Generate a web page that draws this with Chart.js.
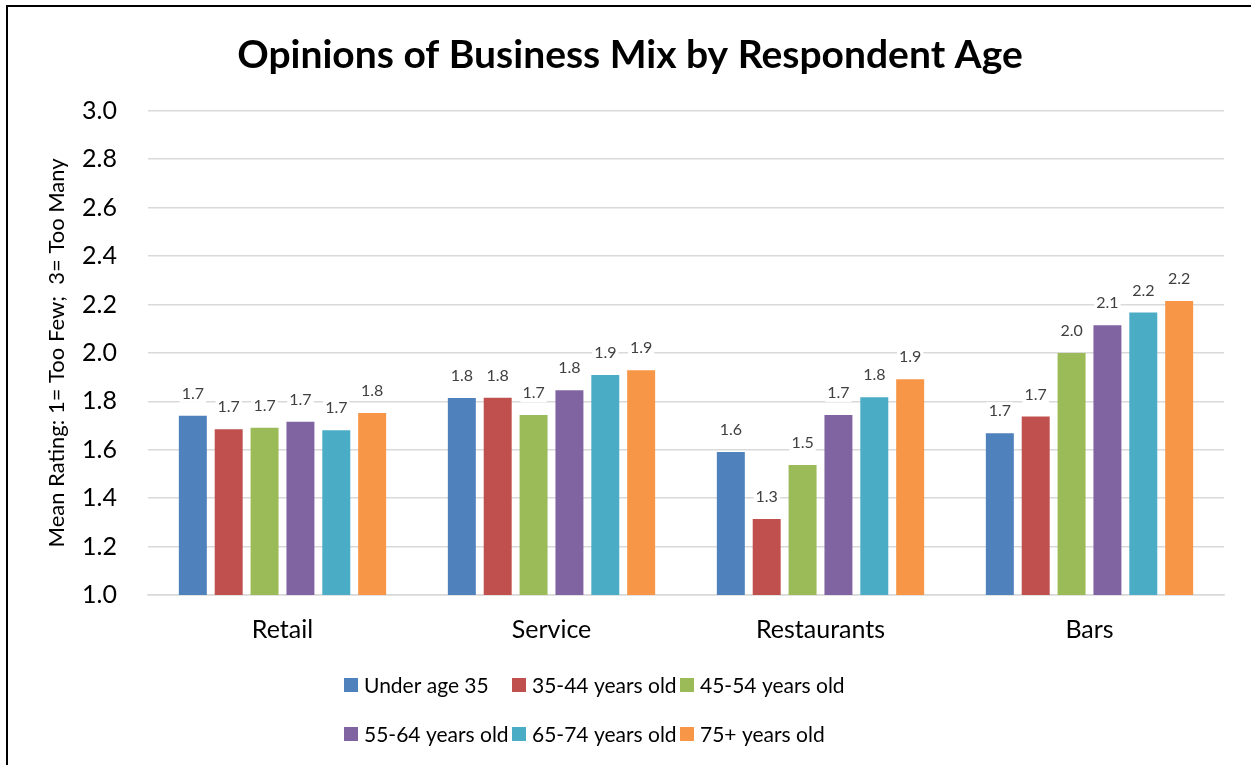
<!DOCTYPE html>
<html>
<head>
<meta charset="utf-8">
<title>Opinions of Business Mix by Respondent Age</title>
<script src="https://cdn.jsdelivr.net/npm/chart.js@4.4.1/dist/chart.umd.min.js"></script>
<style>
  html, body { margin: 0; padding: 0; background: #fff; }
  #wrap { position: relative; width: 1251px; height: 765px; overflow: hidden; }
  #frame { position: absolute; left: 6px; top: 5px; width: 1400px; height: 900px;
           border-left: 2px solid #000; border-top: 2px solid #000; pointer-events: none; }
  #c { position: absolute; left: 0; top: 0; }
</style>
</head>
<body>
<div id="wrap">
  <canvas id="c" width="1251" height="765"></canvas>
  <div id="frame"></div>
</div>
<script>
// Business categories along the x axis
const categories = ['Retail', 'Service', 'Restaurants', 'Bars'];

// Age groups (one bar series each)
const seriesNames = ['Under age 35', '35-44 years old', '45-54 years old',
                     '55-64 years old', '65-74 years old', '75+ years old'];
const seriesColors = ['#4F81BD', '#C0504D', '#9BBB59', '#8064A2', '#4BACC6', '#F79646'];

// Mean ratings per age group, in category order
const under35  = [1.740, 1.814, 1.591, 1.668];
const age35_44 = [1.685, 1.815, 1.314, 1.737];
const age45_54 = [1.691, 1.743, 1.537, 2.000];
const age55_64 = [1.716, 1.846, 1.744, 2.114];
const age65_74 = [1.681, 1.909, 1.817, 2.167];
const age75up  = [1.752, 1.928, 1.891, 2.214];
const seriesValues = [under35, age35_44, age45_54, age55_64, age65_74, age75up];

// Value axis
const yMin = 1.0, yMax = 3.0, yStep = 0.2;

const FONT = 'Lato, "Open Sans", "DejaVu Sans", sans-serif';

// Value labels above each bar, on a white patch that hides the gridline
const barLabels = {
  id: 'barLabels',
  afterDatasetsDraw(chart) {
    const ctx = chart.ctx;
    ctx.save();
    ctx.font = '16px ' + FONT;
    ctx.textAlign = 'center';
    ctx.textBaseline = 'middle';
    chart.data.datasets.forEach((ds, i) => {
      const meta = chart.getDatasetMeta(i);
      meta.data.forEach((bar, j) => {
        const txt = ds.data[j].toFixed(1);
        const w = ctx.measureText(txt).width + 4;
        const cy = bar.y - 22;
        ctx.fillStyle = '#ffffff';
        ctx.fillRect(bar.x - w / 2, cy - 9, w, 18);
        ctx.fillStyle = '#404040';
        ctx.fillText(txt, bar.x, cy);
      });
    });
    ctx.restore();
  }
};

// Legend laid out as a fixed three-column grid below the axis
const gridLegend = {
  id: 'gridLegend',
  afterDraw(chart) {
    const ctx = chart.ctx;
    const colX = [344, 512, 680];
    const rowY = [685, 734];
    ctx.save();
    ctx.font = '21px ' + FONT;
    ctx.textBaseline = 'middle';
    ctx.textAlign = 'left';
    chart.data.datasets.forEach((ds, i) => {
      const x = colX[i % 3], y = rowY[Math.floor(i / 3)];
      ctx.fillStyle = ds.backgroundColor;
      ctx.fillRect(x, y - 7, 14, 14);
      ctx.fillStyle = '#000000';
      ctx.fillText(ds.label, x + 20, y + 1);
    });
    ctx.restore();
  }
};

new Chart(document.getElementById('c'), {
  type: 'bar',
  data: {
    labels: categories,
    datasets: seriesNames.map((name, i) => ({
      label: name,
      data: seriesValues[i],
      backgroundColor: seriesColors[i],
      borderWidth: 0,
      categoryPercentage: 0.8,
      barPercentage: 0.78
    }))
  },
  options: {
    responsive: false,
    animation: false,
    layout: { padding: { left: 9, right: 0, top: 0, bottom: 0 } },
    plugins: {
      legend: { display: false },
      tooltip: { enabled: false },
      title: {
        display: true,
        text: 'Opinions of Business Mix by Respondent Age',
        color: '#000000',
        font: { family: FONT, size: 39, weight: 'bold', lineHeight: 1.2 },
        padding: { top: 32, bottom: 32 }
      }
    },
    scales: {
      x: {
        grid: { display: false },
        border: { display: true, color: '#d9d9d9', width: 1.5 },
        ticks: { color: '#000000', font: { family: FONT, size: 25 }, padding: 12 },
        afterFit(scale) { scale.height = 170; }
      },
      y: {
        min: yMin,
        max: yMax,
        border: { display: false },
        grid: { color: '#d9d9d9', lineWidth: 1.5, drawTicks: false },
        ticks: {
          stepSize: yStep,
          padding: 31,
          color: '#000000',
          font: { family: FONT, size: 25 },
          callback: v => Number(v).toFixed(1)
        },
        title: {
          display: true,
          text: 'Mean Rating: 1= Too Few;  3= Too Many',
          color: '#000000',
          font: { family: FONT, size: 22 },
          padding: { top: 35, bottom: 0 }
        },
        afterFit(scale) { scale.width = 139; }
      },
      // empty right-hand margin of the plot area
      yRight: {
        position: 'right',
        min: yMin,
        max: yMax,
        grid: { display: false, drawOnChartArea: false },
        border: { display: false },
        ticks: { display: false },
        afterFit(scale) { scale.width = 27; }
      }
    }
  },
  plugins: [barLabels, gridLegend]
});
</script>
</body>
</html>
